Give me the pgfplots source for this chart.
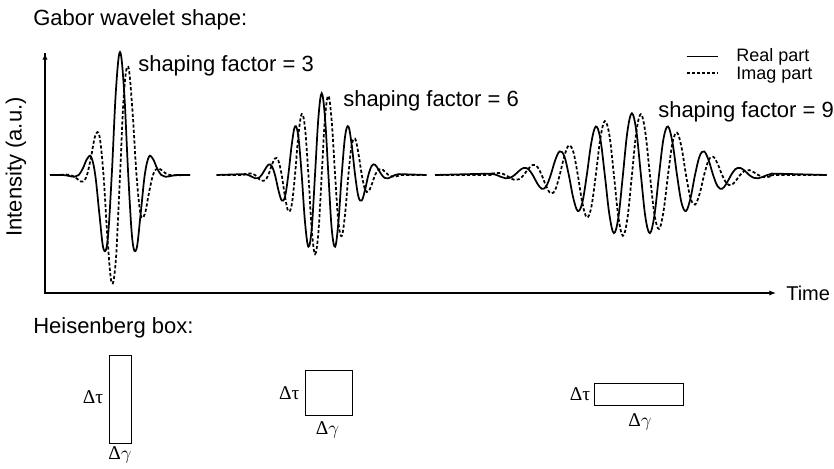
\documentclass[border=0pt]{standalone}
\usepackage{pgfplots}
\pgfplotsset{compat=1.18}
\usepackage{fontspec}
\setmainfont{Liberation Sans}
\newfontfamily\seriffont{Liberation Serif}
\usetikzlibrary{arrows.meta}
\begin{document}
\begin{tikzpicture}
\begin{axis}[
  scale only axis, width=625.5pt, height=351pt,
  xmin=0, xmax=834, ymin=-293, ymax=175,
  hide axis, clip=false,
]
% ---- axes ----
\draw[line width=1.1pt] (45,-118) -- (45,122);
\draw[line width=1.1pt,-{Latex[length=5pt,width=4pt]}] (44,-118) -- (776,-118);
\draw[line width=1.1pt,-{Latex[length=5pt,width=4pt]}] (45,-100) -- (45,122);
% ---- texts ----
\node[anchor=base west,font=\fontsize{16.5}{18}\selectfont,inner sep=0pt] at (33,149) {Gabor wavelet shape:};
\node[anchor=base west,font=\fontsize{16.5}{18}\selectfont,inner sep=0pt] at (138,103) {shaping factor = 3};
\node[anchor=base west,font=\fontsize{16.5}{18}\selectfont,inner sep=0pt] at (343,68) {shaping factor = 6};
\node[anchor=base west,font=\fontsize{16.5}{18}\selectfont,inner sep=0pt] at (658,57) {shaping factor = 9};
\node[rotate=90,font=\fontsize{16.5}{18}\selectfont,inner sep=0pt] at (16,8) {Intensity (a.u.)};
\node[anchor=base west,font=\fontsize{15}{17}\selectfont,inner sep=0pt] at (786,-125.7) {Time};
\node[anchor=base west,font=\fontsize{16.5}{18}\selectfont,inner sep=0pt] at (33,-158) {Heisenberg box:};
% legend
\draw[line width=1.2pt] (686.7,118.3) -- (718.3,118.3);
\draw[line width=1.2pt,dash pattern=on 2.2pt off 1.6pt] (686.7,101.7) -- (718.3,101.7);
\node[anchor=base west,font=\fontsize{13.5}{15}\selectfont,inner sep=0pt] at (736,113) {Real part};
\node[anchor=base west,font=\fontsize{13.5}{15}\selectfont,inner sep=0pt] at (736,95.7) {Imag part};
% ---- wavelet 1 (shaping factor 3) ----
\addplot[black,line width=1.3pt,smooth,tension=0.6] coordinates {
(50,0) (62.25,0) (66.4,-0.4) (70.5,-1.3) (74.6,-1.8) (78.75,0) (82.9,6.6) (87,16.0) (91.1,18.2) (95.25,0) (99.4,-39.2) (103.5,-73.9) (107.6,-65.3) (111.75,0) (115.9,84.2) (120,123) (124.1,84.2) (128.25,0) (132.4,-65.3) (136.5,-73.9) (140.6,-39.2) (144.75,0) (148.9,18.2) (153,16.0) (157.1,6.6) (161.25,0) (165.4,-1.8) (169.5,-1.3) (173.6,-0.4) (177.75,0) (190,0)};
\addplot[black,line width=1.3pt,smooth,tension=0.6,dash pattern=on 2.4pt off 1.6pt] coordinates {
(50,0) (62.25,0.2) (66.4,0.4) (70.5,0) (74.6,-1.8) (78.75,-5.1) (82.9,-6.6) (87,0) (91.1,18.2) (95.25,39.1) (99.4,39.2) (103.5,0) (107.6,-65.3) (111.75,-108.3) (115.9,-84.2) (120,0) (124.1,84.2) (128.25,108.3) (132.4,65.3) (136.5,0) (140.6,-39.2) (144.75,-39.1) (148.9,-18.2) (153,0) (157.1,6.6) (161.25,5.1) (165.4,1.8) (169.5,0) (173.6,-0.4) (177.75,-0.2) (190,0)};
% ---- wavelet 2 (shaping factor 6) ----
\addplot[black,line width=1.3pt,smooth,tension=0.6] coordinates {
(216.7,0) (241.6,0.8) (244.9,0.8) (248.3,0) (251.6,-1.6) (255.0,-3.2) (258.3,-3.1) (261.6,0) (265.0,5.5) (268.3,10.2) (271.6,9.3) (275.0,0) (278.3,-14.6) (281.7,-25.4) (285.0,-21.6) (288.3,0) (291.7,29.9) (295.0,48.6) (298.3,38.8) (301.7,0) (305.0,-47.1) (308.4,-71.7) (311.7,-53.7) (315.0,0) (318.4,57.3) (321.7,81.7) (325.0,57.3) (328.4,0) (331.7,-53.7) (335.1,-71.7) (338.4,-47.1) (341.7,0) (345.1,38.8) (348.4,48.6) (351.7,29.9) (355.1,0) (358.4,-21.6) (361.8,-25.4) (365.1,-14.6) (368.4,0) (371.8,9.3) (375.1,10.2) (378.4,5.5) (381.8,0) (385.1,-3.1) (388.5,-3.2) (391.8,-1.6) (395.1,0) (398.5,0.8) (401.8,0.8) (426.7,0)};
\addplot[black,line width=1.3pt,smooth,tension=0.6,dash pattern=on 2.4pt off 1.6pt] coordinates {
(216.7,0) (241.6,0) (244.9,0.8) (248.3,1.6) (251.6,1.6) (255.0,0) (258.3,-3.1) (261.6,-5.9) (265.0,-5.5) (268.3,0) (271.6,9.3) (275.0,16.6) (278.3,14.6) (281.7,0) (285.0,-21.6) (288.3,-36.3) (291.7,-29.9) (295.0,0) (298.3,38.8) (301.7,61.0) (305.0,47.1) (308.4,0) (311.7,-53.7) (315.0,-79.1) (318.4,-57.3) (321.7,0) (325.0,57.3) (328.4,79.1) (331.7,53.7) (335.1,0) (338.4,-47.1) (341.7,-61.0) (345.1,-38.8) (348.4,0) (351.7,29.9) (355.1,36.3) (358.4,21.6) (361.8,0) (365.1,-14.6) (368.4,-16.6) (371.8,-9.3) (375.1,0) (378.4,5.5) (381.8,5.9) (385.1,3.1) (388.5,0) (391.8,-1.6) (395.1,-1.6) (398.5,-0.8) (401.8,0) (426.7,0)};
% ---- wavelet 3 (shaping factor 9) ----
\addplot[black,line width=1.3pt,smooth,tension=0.6] coordinates {
(435,0) (487.6,1.3) (492.1,1.2) (496.6,0) (501.1,-1.9) (505.6,-3.3) (510.1,-2.8) (514.6,0) (519.2,4.2) (523.7,7.1) (528.2,6.0) (532.7,0) (537.2,-8.3) (541.7,-13.8) (546.2,-11.3) (550.7,0) (555.2,14.8) (559.7,23.6) (564.3,18.8) (568.8,0) (573.3,-23.1) (577.8,-36.0) (582.3,-27.7) (586.8,0) (591.3,32.2) (595.8,48.5) (600.3,36.3) (604.8,0) (609.4,-39.7) (613.9,-58.1) (618.4,-42.2) (622.9,0) (627.4,43.5) (631.9,61.7) (636.4,43.5) (640.9,0) (645.4,-42.2) (649.9,-58.1) (654.5,-39.7) (659.0,0) (663.5,36.3) (668.0,48.5) (672.5,32.2) (677.0,0) (681.5,-27.7) (686.0,-36.0) (690.5,-23.1) (695.0,0) (699.6,18.8) (704.1,23.6) (708.6,14.8) (713.1,0) (717.6,-11.3) (722.1,-13.8) (726.6,-8.3) (731.1,0) (735.6,6.0) (740.1,7.1) (744.7,4.2) (749.2,0) (753.7,-2.8) (758.2,-3.3) (762.7,-1.9) (767.2,0) (771.7,1.2) (776.2,1.3) (826.7,0)};
\addplot[black,line width=1.3pt,smooth,tension=0.6,dash pattern=on 2.4pt off 1.6pt] coordinates {
(435,0) (487.6,0) (492.1,1.2) (496.6,2.1) (501.1,1.9) (505.6,0) (510.1,-2.8) (514.6,-4.9) (519.2,-4.2) (523.7,0) (528.2,6.0) (532.7,10.1) (537.2,8.3) (541.7,0) (546.2,-11.3) (550.7,-18.3) (555.2,-14.8) (559.7,0) (564.3,18.8) (568.8,29.6) (573.3,23.1) (577.8,0) (582.3,-27.7) (586.8,-42.4) (591.3,-32.2) (595.8,0) (600.3,36.3) (604.8,53.9) (609.4,39.7) (613.9,0) (618.4,-42.2) (622.9,-60.8) (627.4,-43.5) (631.9,0) (636.4,43.5) (640.9,60.8) (645.4,42.2) (649.9,0) (654.5,-39.7) (659.0,-53.9) (663.5,-36.3) (668.0,0) (672.5,32.2) (677.0,42.4) (681.5,27.7) (686.0,0) (690.5,-23.1) (695.0,-29.6) (699.6,-18.8) (704.1,0) (708.6,14.8) (713.1,18.3) (717.6,11.3) (722.1,0) (726.6,-8.3) (731.1,-10.1) (735.6,-6.0) (740.1,0) (744.7,4.2) (749.2,4.9) (753.7,2.8) (758.2,0) (762.7,-1.9) (767.2,-2.1) (771.7,-1.2) (776.2,0) (826.7,0)};
% ---- Heisenberg boxes ----
\addplot[black,line width=0.7pt] coordinates {(109.3,-180) (131,-180) (131,-268.3) (109.3,-268.3) (109.3,-180)};
\addplot[black,line width=0.7pt] coordinates {(305,-195.7) (352.3,-195.7) (352.3,-240) (305,-240) (305,-195.7)};
\addplot[black,line width=0.7pt] coordinates {(594.3,-208.3) (683.3,-208.3) (683.3,-230) (594.3,-230) (594.3,-208.3)};
\node[font=\fontsize{14.6}{16}\selectfont\seriffont,inner sep=0pt] at (93,-222) {Δτ};
\node[font=\fontsize{14.6}{16}\selectfont\seriffont,inner sep=0pt] at (120,-280) {Δ$\gamma$};
\node[font=\fontsize{14.6}{16}\selectfont\seriffont,inner sep=0pt] at (289.2,-218.3) {Δτ};
\node[font=\fontsize{14.6}{16}\selectfont\seriffont,inner sep=0pt] at (327.5,-255) {Δ$\gamma$};
\node[font=\fontsize{14.6}{16}\selectfont\seriffont,inner sep=0pt] at (580,-219) {Δτ};
\node[font=\fontsize{14.6}{16}\selectfont\seriffont,inner sep=0pt] at (640,-246.7) {Δ$\gamma$};
\end{axis}
\pgfresetboundingbox
\path (0,0) rectangle (625.5pt,351pt);
\end{tikzpicture}
\end{document}
